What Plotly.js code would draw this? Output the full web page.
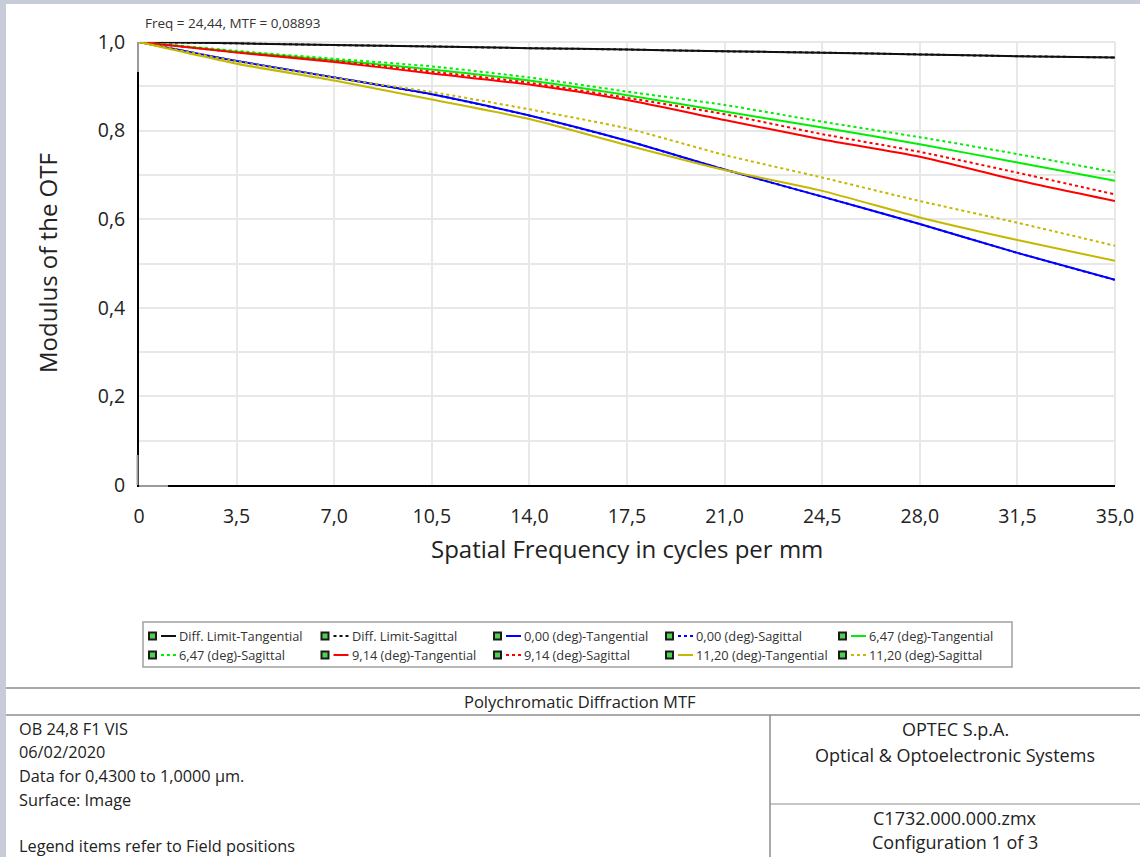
<!DOCTYPE html>
<html>
<head>
<meta charset="utf-8">
<script src="https://cdn.plot.ly/plotly-3.0.1.min.js"></script>
<style>
  html, body { margin: 0; padding: 0; background: #ffffff; }
  #chart { width: 1140px; height: 857px; }
</style>
</head>
<body>
<div id="chart"></div>
<script>
// ---------------- DATA ----------------
const freq = [0, 3.5, 7.0, 10.5, 14.0, 17.5, 21.0, 24.5, 28.0, 31.5, 35.0];

const diffTan   = [1.000, 0.997, 0.993, 0.990, 0.986, 0.983, 0.979, 0.976, 0.972, 0.968, 0.965];
const diffSag   = [1.000, 0.997, 0.993, 0.990, 0.986, 0.983, 0.979, 0.976, 0.972, 0.968, 0.965];
const f000Tan   = [1.000, 0.957, 0.920, 0.882, 0.834, 0.777, 0.712, 0.651, 0.589, 0.524, 0.463];
const f000Sag   = [1.000, 0.957, 0.920, 0.882, 0.834, 0.777, 0.712, 0.651, 0.589, 0.524, 0.463];
const f647Tan   = [1.000, 0.978, 0.959, 0.938, 0.913, 0.880, 0.843, 0.807, 0.769, 0.728, 0.687];
const f647Sag   = [1.000, 0.980, 0.962, 0.945, 0.920, 0.888, 0.858, 0.820, 0.785, 0.747, 0.706];
const f914Tan   = [1.000, 0.976, 0.955, 0.929, 0.904, 0.869, 0.824, 0.780, 0.741, 0.688, 0.641];
const f914Sag   = [1.000, 0.977, 0.957, 0.933, 0.908, 0.874, 0.837, 0.792, 0.752, 0.705, 0.656];
const f1120Tan  = [1.000, 0.951, 0.913, 0.870, 0.826, 0.767, 0.711, 0.664, 0.604, 0.553, 0.506];
const f1120Sag  = [1.000, 0.956, 0.919, 0.887, 0.848, 0.805, 0.745, 0.694, 0.641, 0.592, 0.540];

const seriesNames = [
  'Diff. Limit-Tangential', 'Diff. Limit-Sagittal',
  '0,00 (deg)-Tangential', '0,00 (deg)-Sagittal',
  '6,47 (deg)-Tangential', '6,47 (deg)-Sagittal',
  '9,14 (deg)-Tangential', '9,14 (deg)-Sagittal',
  '11,20 (deg)-Tangential', '11,20 (deg)-Sagittal'
];
const seriesValues = [diffTan, diffSag, f000Tan, f000Sag, f647Tan, f647Sag, f914Tan, f914Sag, f1120Tan, f1120Sag];

const xTickVals = [0, 3.5, 7.0, 10.5, 14.0, 17.5, 21.0, 24.5, 28.0, 31.5, 35.0];
const xTickText = ['0', '3,5', '7,0', '10,5', '14,0', '17,5', '21,0', '24,5', '28,0', '31,5', '35,0'];
const yTickVals = [0, 0.1, 0.2, 0.3, 0.4, 0.5, 0.6, 0.7, 0.8, 0.9, 1.0];
const yTickText = ['0', '', '0,2', '', '0,4', '', '0,6', '', '0,8', '', '1,0'];

const headerText = 'Freq = 24,44, MTF = 0,08893';
const xTitle = 'Spatial Frequency in cycles per mm';
const yTitle = 'Modulus of the OTF';
const tableTitle = 'Polychromatic Diffraction MTF';
const leftInfo = ['OB 24,8 F1 VIS', '06/02/2020', 'Data for 0,4300 to 1,0000 µm.', 'Surface: Image'];
const leftFooter = 'Legend items refer to Field positions';
const rightTop = ['OPTEC S.p.A.', 'Optical & Optoelectronic Systems'];
const rightBottom = ['C1732.000.000.zmx', 'Configuration 1 of 3'];

// ---------------- STYLE ----------------
const colors = ['#111111', '#111111', '#0000ff', '#0000ff', '#00ee00', '#00ee00', '#ff0000', '#ff0000', '#c4b800', '#c4b800'];
const dashes = ['solid', 'dot', 'solid', 'dot', 'solid', 'dot', 'solid', 'dot', 'solid', 'dot'];

const W = 1140, H = 857;
const PL = 139, PR = 1115, PT = 42, PB = 485;
const PW = PR - PL, PH = PB - PT;
const X = px => (px - PL) / PW;
const Y = py => (PB - py) / PH;

const FONT = '"Open Sans", "Noto Sans", "DejaVu Sans", sans-serif';
const TXT = '#222222';

const traces = seriesNames.map((name, i) => ({
  type: 'scatter', mode: 'lines', name: name,
  x: freq, y: seriesValues[i],
  line: { color: colors[i], width: 2, dash: dashes[i], shape: 'spline', smoothing: 0.6 },
  showlegend: false, hoverinfo: 'skip'
}));

const shapes = [];
const annotations = [];

// background strips at window edges
shapes.push({ type: 'rect', xref: 'paper', yref: 'paper', x0: X(0), x1: X(6), y0: Y(H), y1: Y(0), fillcolor: '#c8cbd8', line: { width: 0 }, layer: 'below' });
shapes.push({ type: 'rect', xref: 'paper', yref: 'paper', x0: X(0), x1: X(W), y0: Y(4), y1: Y(0), fillcolor: '#c8cbd8', line: { width: 0 }, layer: 'below' });

// top and right boundary gridlines
shapes.push({ type: 'line', xref: 'paper', yref: 'paper', x0: 0, x1: 1, y0: 1, y1: 1, line: { color: '#e8e8e8', width: 2 }, layer: 'below' });
shapes.push({ type: 'line', xref: 'paper', yref: 'paper', x0: 1, x1: 1, y0: 0, y1: 1, line: { color: '#e8e8e8', width: 2 }, layer: 'below' });

// grey artefacts on axis line ends
shapes.push({ type: 'line', xref: 'paper', yref: 'paper', x0: X(138), x1: X(138), y0: Y(42), y1: Y(72), line: { color: '#9a9a9a', width: 2 } });
shapes.push({ type: 'line', xref: 'paper', yref: 'paper', x0: X(137.5), x1: X(137.5), y0: Y(455), y1: Y(485), line: { color: '#9a9a9a', width: 2 } });
shapes.push({ type: 'line', xref: 'paper', yref: 'paper', x0: X(139), x1: X(168), y0: Y(486), y1: Y(486), line: { color: '#9a9a9a', width: 2 } });

// header text
annotations.push({ xref: 'paper', yref: 'paper', x: X(143), y: Y(23), xanchor: 'left', yanchor: 'middle', showarrow: false, text: headerText, font: { family: FONT, size: 13.5, color: '#333' } });

// axis titles
annotations.push({ xref: 'paper', yref: 'paper', x: X(627), y: Y(548), xanchor: 'center', yanchor: 'middle', showarrow: false, text: xTitle, font: { family: FONT, size: 24, color: TXT } });
annotations.push({ xref: 'paper', yref: 'paper', x: X(47), y: Y(263), xanchor: 'center', yanchor: 'middle', showarrow: false, textangle: -90, text: yTitle, font: { family: FONT, size: 24, color: TXT } });

// legend box
shapes.push({ type: 'rect', xref: 'paper', yref: 'paper', x0: X(143), x1: X(1012), y0: Y(667), y1: Y(622), line: { color: '#a0a0a0', width: 1.5 }, fillcolor: 'rgba(0,0,0,0)' });
const colX = [148, 320.5, 493, 665, 838];
const rowY = [636, 655];
seriesNames.forEach((name, i) => {
  const cx = colX[i % 5], cy = rowY[Math.floor(i / 5)];
  shapes.push({ type: 'rect', xref: 'paper', yref: 'paper', x0: X(cx), x1: X(cx + 9), y0: Y(cy + 4.5), y1: Y(cy - 4.5), fillcolor: '#1a1a1a', line: { width: 0 } });
  shapes.push({ type: 'rect', xref: 'paper', yref: 'paper', x0: X(cx + 2), x1: X(cx + 7), y0: Y(cy + 2.5), y1: Y(cy - 2.5), fillcolor: '#4fd04f', line: { width: 0 } });
  shapes.push({ type: 'line', xref: 'paper', yref: 'paper', x0: X(cx + 13), x1: X(cx + 28), y0: Y(cy), y1: Y(cy), line: { color: colors[i], width: 2, dash: dashes[i] } });
  annotations.push({ xref: 'paper', yref: 'paper', x: X(cx + 29), y: Y(cy), xanchor: 'left', yanchor: 'middle', showarrow: false, text: name, font: { family: FONT, size: 12.8, color: '#333' } });
});

// info table
const LC = '#8c8c8c';
shapes.push({ type: 'line', xref: 'paper', yref: 'paper', x0: X(6), x1: X(W), y0: Y(688), y1: Y(688), line: { color: LC, width: 1.5 } });
shapes.push({ type: 'line', xref: 'paper', yref: 'paper', x0: X(6), x1: X(W), y0: Y(715), y1: Y(715), line: { color: LC, width: 1.5 } });
shapes.push({ type: 'line', xref: 'paper', yref: 'paper', x0: X(770), x1: X(770), y0: Y(715), y1: Y(H), line: { color: LC, width: 1.5 } });
shapes.push({ type: 'line', xref: 'paper', yref: 'paper', x0: X(770), x1: X(W), y0: Y(804), y1: Y(804), line: { color: LC, width: 1 } });

annotations.push({ xref: 'paper', yref: 'paper', x: X(580), y: Y(701), xanchor: 'center', yanchor: 'middle', showarrow: false, text: tableTitle, font: { family: FONT, size: 16.5, color: TXT } });
const leftY = [729, 752, 776, 800];
leftInfo.forEach((t, i) => annotations.push({ xref: 'paper', yref: 'paper', x: X(17), y: Y(leftY[i]), xanchor: 'left', yanchor: 'middle', showarrow: false, text: t, font: { family: FONT, size: 16.3, color: TXT } }));
annotations.push({ xref: 'paper', yref: 'paper', x: X(17), y: Y(846), xanchor: 'left', yanchor: 'middle', showarrow: false, text: leftFooter, font: { family: FONT, size: 16.3, color: TXT } });
const rtY = [729, 755];
rightTop.forEach((t, i) => annotations.push({ xref: 'paper', yref: 'paper', x: X(955), y: Y(rtY[i]), xanchor: 'center', yanchor: 'middle', showarrow: false, text: t, font: { family: FONT, size: 18, color: TXT } }));
const rbY = [818, 842];
rightBottom.forEach((t, i) => annotations.push({ xref: 'paper', yref: 'paper', x: X(955), y: Y(rbY[i]), xanchor: 'center', yanchor: 'middle', showarrow: false, text: t, font: { family: FONT, size: 18, color: TXT } }));

const layout = {
  width: W, height: H,
  margin: { l: PL, r: W - PR, t: PT, b: H - PB, pad: 0 },
  paper_bgcolor: '#ffffff', plot_bgcolor: '#ffffff',
  showlegend: false,
  font: { family: FONT, color: TXT },
  xaxis: {
    range: [0, 35], tickmode: 'array', tickvals: xTickVals, ticktext: xTickText,
    showgrid: true, gridcolor: '#e8e8e8', gridwidth: 2, zeroline: false,
    showline: true, linecolor: '#000', linewidth: 2, ticks: '',
    ticklabelstandoff: 13, tickfont: { family: FONT, size: 19.5, color: TXT }, fixedrange: true
  },
  yaxis: {
    range: [0, 1], tickmode: 'array', tickvals: yTickVals, ticktext: yTickText,
    showgrid: true, gridcolor: '#e8e8e8', gridwidth: 2, zeroline: false,
    showline: true, linecolor: '#000', linewidth: 2, ticks: '',
    ticklabelstandoff: 8, tickfont: { family: FONT, size: 19.5, color: TXT }, fixedrange: true
  },
  shapes: shapes,
  annotations: annotations
};

Plotly.newPlot('chart', traces, layout, { staticPlot: true, displayModeBar: false });
</script>
</body>
</html>
